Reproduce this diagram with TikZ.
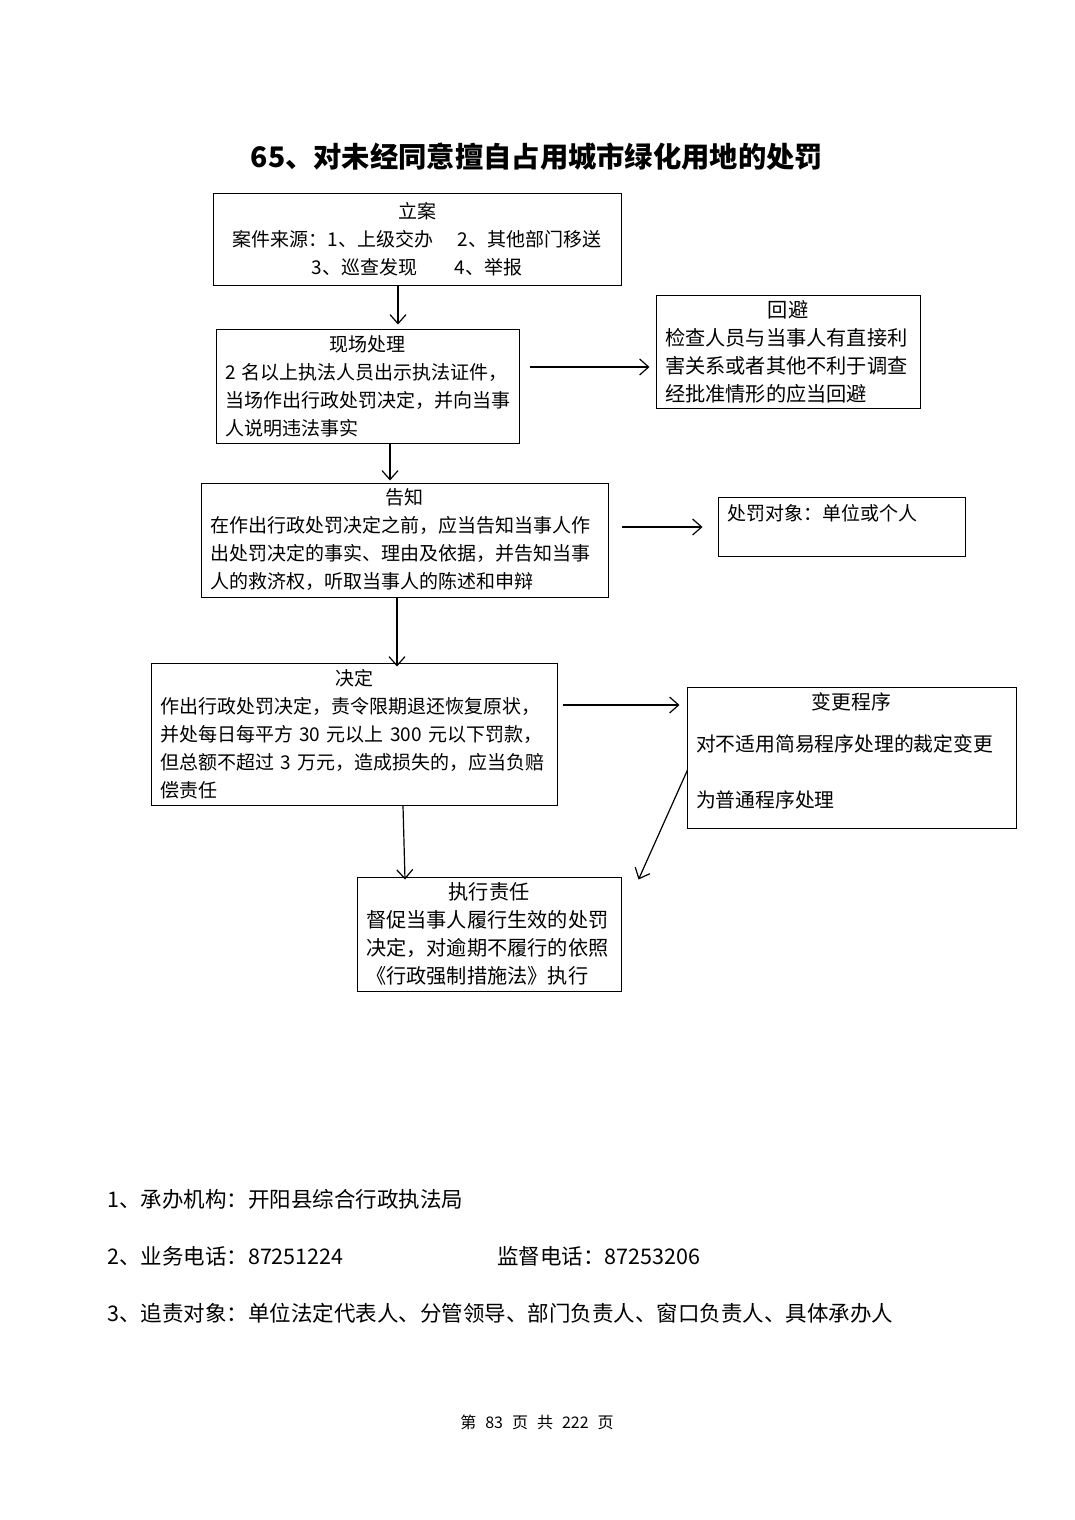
\documentclass[tikz,border=0pt]{standalone}
\usepackage{fontspec}
\setmainfont{Noto Sans CJK SC}
\usepackage{tikz}
\usetikzlibrary{arrows.meta}
\setlength{\parindent}{0pt}

\begin{document}
\begin{tikzpicture}[x=1pt, y=-1pt,
	kuang/.style={draw, line width=1pt, inner xsep=9pt, inner ysep=0pt, align=left, font=\fontsize{19}{28}\selectfont},
	jiantou/.style={-{Straight Barb[length=9pt, width=16pt]}, line width=1.2pt},
	hangwen/.style={anchor=west, inner sep=0pt, font=\fontsize{21.5}{26}\selectfont}]
	\useasboundingbox (0,0) rectangle (1074,1520);
	
	% --- 标题 ---
	\node[font=\fontsize{28.3}{34}\selectfont\bfseries] (biaoti) at (537,157) {65、对未经同意擅自占用城市绿化用地的处罚};
	
	% --- 流程框 ---
	\node[kuang, align=center, text width=390pt, minimum height=92pt] (lian) at (417,239)
		{立案\\案件来源：1、上级交办\hspace{24pt}2、其他部门移送\\3、巡查发现\hspace{38pt}4、举报\hspace{22pt}};
	\node[kuang, text width=285pt, minimum height=114pt] (xianchang) at (367.5,386)
		{{\centering 现场处理\par}2~名以上执法人员出示执法证件，\\当场作出行政处罚决定，并向当事\\人说明违法事实};
	\node[kuang, text width=246pt, minimum height=113pt, font=\fontsize{20.2}{28}\selectfont] (huibi) at (788,351.5)
		{{\centering 回避\par}检查人员与当事人有直接利\\害关系或者其他不利于调查\\经批准情形的应当回避};
	\node[kuang, text width=389pt, minimum height=114pt] (gaozhi) at (404.5,540)
		{{\centering 告知\par}在作出行政处罚决定之前，应当告知当事人作\\出处罚决定的事实、理由及依据，并告知当事\\人的救济权，听取当事人的陈述和申辩};
	\node[kuang, text width=229pt, minimum height=59pt] (duixiang) at (841.5,526.5)
		{处罚对象：单位或个人\\\mbox{}};
	\node[kuang, text width=388pt, minimum height=142pt] (jueding) at (354,734)
		{{\centering 决定\par}作出行政处罚决定，责令限期退还恢复原状，\\并处每日每平方~30~元以上~300~元以下罚款，\\但总额不超过~3~万元，造成损失的，应当负赔\\偿责任};
	\node[kuang, text width=311pt, minimum height=141pt, font=\fontsize{19.8}{28}\selectfont] (biangeng) at (851.5,757.5)
		{{\centering 变更程序\par}\vspace{14pt}对不适用简易程序处理的裁定变更\\[28pt]为普通程序处理\par\hrule height 0pt depth 14pt width 0pt};
	\node[kuang, text width=246pt, minimum height=114pt, font=\fontsize{20.2}{28}\selectfont] (zhixing) at (489,934)
		{{\centering 执行责任\par}督促当事人履行生效的处罚\\决定，对逾期不履行的依照\\《行政强制措施法》执行};
	
	% --- 箭头 ---
	\draw[jiantou] ([shift={(-19,0)}]lian.south) -- ([shift={(30.5,-4)}]xianchang.north);
	\draw[jiantou] ([shift={(10,-19)}]xianchang.east) -- ([shift={(-6,15.5)}]huibi.west);
	\draw[jiantou] ([shift={(22.5,0)}]xianchang.south) -- ([shift={(-14.5,-2)}]gaozhi.north);
	\draw[jiantou] ([shift={(13,-13)}]gaozhi.east) -- ([shift={(-15,0.5)}]duixiang.west);
	\draw[jiantou] ([shift={(-7.5,0)}]gaozhi.south) -- ([shift={(43,4)}]jueding.north);
	\draw[jiantou] ([shift={(5,-29)}]jueding.east) -- ([shift={(-7,-52.5)}]biangeng.west);
	\draw[jiantou] ([shift={(49,0)}]jueding.south) -- ([shift={(-84,3)}]zhixing.north);
	\draw[jiantou] ([shift={(1,12.5)}]biangeng.west) -- ([shift={(17,3)}]zhixing.north east);
	
	% --- 说明文字 ---
	\node[hangwen] (chengban) at (107,1199) {1、承办机构：开阳县综合行政执法局};
	\node[hangwen] (yewu) at (107,1256) {2、业务电话：87251224};
	\node[hangwen] (jiandu) at (497,1256) {监督电话：87253206};
	\node[hangwen] (zhuize) at (107,1313) {3、追责对象：单位法定代表人、分管领导、部门负责人、窗口负责人、具体承办人};
	
	% --- 页码 ---
	\node[font=\fontsize{16}{20}\selectfont] (yema) at (537,1422)
		{第\hspace{9pt}83\hspace{9pt}页\hspace{9pt}共\hspace{9pt}222\hspace{9pt}页};
\end{tikzpicture}
\end{document}
